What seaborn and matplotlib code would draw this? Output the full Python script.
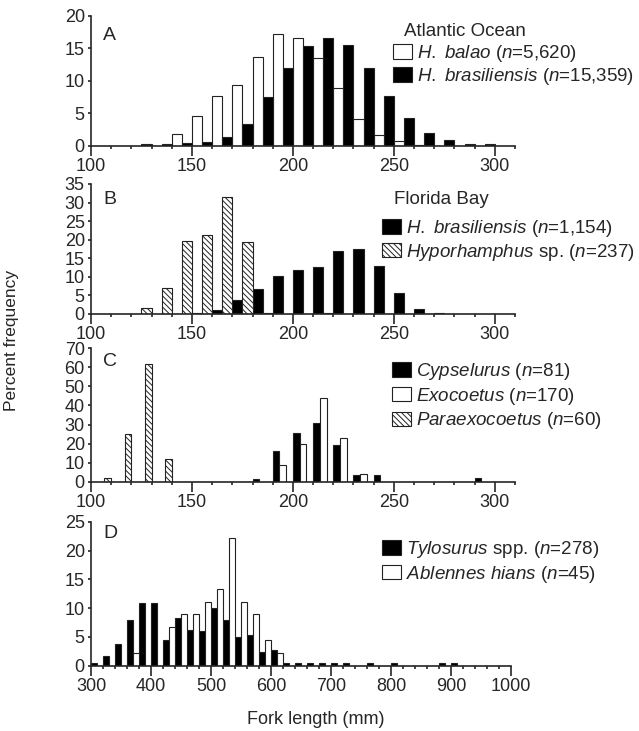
import pandas as pd
import matplotlib.pyplot as plt
from matplotlib.patches import Patch
from matplotlib.ticker import MultipleLocator
import seaborn as sns

# ---- data (percent frequency per fork-length bin, lower bin edge in mm) ----
bins_abc = list(range(100, 300, 10))
bins_d = list(range(300, 1000, 20))

# A: Atlantic Ocean
a_balao = [0, 0, 0, 0, 1.8, 4.5, 7.6, 9.4, 13.7, 17.1, 16.5, 13.5, 8.9, 4.1, 1.6, 0.7, 0.1, 0, 0, 0]
a_brasil = [0, 0, 0.2, 0.2, 0.4, 0.6, 1.4, 3.4, 7.5, 12.0, 15.3, 16.5, 15.4, 11.9, 7.7, 4.2, 2.0, 0.8, 0.2, 0.2]

# B: Florida Bay
b_brasil = [0, 0, 0, 0, 0, 0.3, 1.0, 3.8, 6.6, 10.1, 11.8, 12.7, 16.9, 17.5, 12.8, 5.6, 1.4, 0.4, 0, 0]
b_hypo = [0, 0, 1.7, 6.9, 19.6, 21.2, 31.6, 19.3, 0.4, 0, 0, 0.4, 0, 0, 0, 0, 0, 0, 0, 0]

# C: flyingfishes
c_cyps = [0, 0, 0, 0, 0, 0, 0, 0, 1.2, 16.0, 25.3, 30.9, 19.5, 3.3, 3.3, 0, 0, 0, 0, 1.8]
c_exo = [0, 0, 0, 0, 0, 0, 0, 0, 0, 8.8, 20.0, 44.1, 22.9, 4.1, 0, 0, 0, 0, 0, 0]
c_para = [1.7, 25.0, 61.7, 11.7, 0, 0, 0, 0, 0, 0, 0, 0, 0, 0, 0, 0, 0, 0, 0, 0]

# D: needlefishes
d_tylo = [0.4, 1.6, 3.8, 7.9, 10.8, 10.8, 4.5, 8.3, 6.2, 6.0, 10.0, 7.9, 5.0, 5.4, 2.3, 2.8,
          0.5, 0.5, 0.4, 0.5, 0.4, 0.4, 0, 0.5, 0, 0.5, 0, 0, 0, 0.5, 0.5, 0, 0, 0, 0]
d_ablen = [0, 0, 0, 2.2, 0, 0, 6.7, 8.9, 8.9, 11.1, 13.3, 22.2, 11.1, 8.9, 4.4, 2.2,
           0, 0, 0, 0, 0, 0, 0, 0, 0, 0, 0, 0, 0, 0, 0, 0, 0, 0, 0]

lab_balao = r"$\mathit{H.\ balao}$ ($\mathit{n}$=5,620)"
lab_brasil_a = r"$\mathit{H.\ brasiliensis}$ ($\mathit{n}$=15,359)"
lab_brasil_b = r"$\mathit{H.\ brasiliensis}$ ($\mathit{n}$=1,154)"
lab_hypo = r"$\mathit{Hyporhamphus}$ sp. ($\mathit{n}$=237)"
lab_cyps = r"$\mathit{Cypselurus}$ ($\mathit{n}$=81)"
lab_exo = r"$\mathit{Exocoetus}$ ($\mathit{n}$=170)"
lab_para = r"$\mathit{Paraexocoetus}$ ($\mathit{n}$=60)"
lab_tylo = r"$\mathit{Tylosurus}$ spp. ($\mathit{n}$=278)"
lab_ablen = r"$\mathit{Ablennes\ hians}$ ($\mathit{n}$=45)"

sns.set_style("ticks")
plt.rcParams['font.family'] = ['Liberation Sans', 'DejaVu Sans']
plt.rcParams['mathtext.fontset'] = 'custom'
plt.rcParams['mathtext.rm'] = 'Liberation Sans'
plt.rcParams['mathtext.it'] = 'Liberation Sans:italic'
plt.rcParams['hatch.linewidth'] = 0.7

W, H = 639, 731
fig = plt.figure(figsize=(W / 100, H / 100), dpi=100)


def px_axes(left, top, right, bottom):
    return fig.add_axes([left / W, 1 - bottom / H, (right - left) / W, (bottom - top) / H])


STYLE = {'black': ('black', None), 'white': ('white', None), 'hatch': ('white', '\\\\\\\\\\\\')}
EDGE = '#222222'
TICK_FS = 13
LEG_FS = 13.5


def panel(ax, bins, step, series, ymax, ystep, xlim, xmajor):
    names = [s[0] for s in series]
    rows = []
    for name, vals, _ in series:
        for b, v in zip(bins, vals):
            rows.append({'mid': b + step / 2, 'pct': v, 'species': name})
    df = pd.DataFrame(rows)
    pal = {name: STYLE[kind][0] for name, _, kind in series}
    sns.barplot(data=df, x='mid', y='pct', hue='species', hue_order=names, palette=pal,
                native_scale=True, width=1, gap=0, dodge=True, errorbar=None,
                edgecolor=EDGE, linewidth=0.8, legend=False, ax=ax)
    for cont, (_, _, kind) in zip(ax.containers, series):
        h = STYLE[kind][1]
        if h:
            for bar in cont:
                bar.set_hatch(h)
    ax.set_xlim(*xlim)
    ax.set_ylim(0, ymax)
    ax.xaxis.set_major_locator(MultipleLocator(xmajor))
    ax.xaxis.set_minor_locator(MultipleLocator(step))
    ax.yaxis.set_major_locator(MultipleLocator(ystep))
    ax.set_xlabel('')
    ax.set_ylabel('')
    sns.despine(ax=ax)
    for s in ('left', 'bottom'):
        ax.spines[s].set_linewidth(1.2)
        ax.spines[s].set_zorder(5)
    ax.tick_params(axis='x', which='major', length=7, width=1.2, pad=1.5, labelsize=TICK_FS)
    ax.tick_params(axis='x', which='minor', length=2.5, width=1.2)
    ax.tick_params(axis='y', which='major', length=2.5, width=1.2, pad=2, labelsize=TICK_FS)
    return [Patch(facecolor=STYLE[k][0], edgecolor=EDGE, hatch=STYLE[k][1], linewidth=0.8, label=n)
            for n, _, k in series]


def legend(ax, handles, x, y, spacing):
    ax.legend(handles=handles, loc='upper left', bbox_to_anchor=(x / W, 1 - y / H),
              bbox_transform=fig.transFigure, frameon=False, fontsize=LEG_FS,
              handlelength=1.0, handleheight=0.8, handletextpad=0.3,
              labelspacing=spacing, borderpad=0, borderaxespad=0)


axA = px_axes(91, 15.5, 515, 145.7)
axB = px_axes(91, 184, 515, 314)
axC = px_axes(91, 348.3, 515, 481.7)
axD = px_axes(91, 521.7, 511, 665.7)

hA = panel(axA, bins_abc, 10, [(lab_balao, a_balao, 'white'), (lab_brasil_a, a_brasil, 'black')],
           20, 5, (100, 310), 50)
legend(axA, hA, 393, 43, 0.1)
fig.text(404 / W, 1 - 31 / H, 'Atlantic Ocean', fontsize=LEG_FS, va='center', ha='left')

hB = panel(axB, bins_abc, 10, [(lab_brasil_b, b_brasil, 'black'), (lab_hypo, b_hypo, 'hatch')],
           35, 5, (100, 310), 50)
legend(axB, hB, 382, 218, 0.15)
fig.text(394 / W, 1 - 199 / H, 'Florida Bay', fontsize=LEG_FS, va='center', ha='left')

hC = panel(axC, bins_abc, 10, [(lab_cyps, c_cyps, 'black'), (lab_exo, c_exo, 'white'),
                                (lab_para, c_para, 'hatch')],
           70, 10, (100, 310), 50)
legend(axC, hC, 392, 361, 0.2)

hD = panel(axD, bins_d, 20, [(lab_tylo, d_tylo, 'black'), (lab_ablen, d_ablen, 'white')],
           25, 5, (300, 1000), 100)
legend(axD, hD, 382, 539, 0.2)

for letter, y in zip('ABCD', (35, 199, 361.5, 534)):
    fig.text(103 / W, 1 - y / H, letter, fontsize=14, va='center', ha='left')

fig.text(12 / W, 1 - 340 / H, 'Percent frequency', fontsize=12.5, rotation=90, va='center', ha='center')
fig.text(316 / W, 1 - 719 / H, 'Fork length (mm)', fontsize=13, va='center', ha='center')

fig.savefig('out.png', dpi=100)
